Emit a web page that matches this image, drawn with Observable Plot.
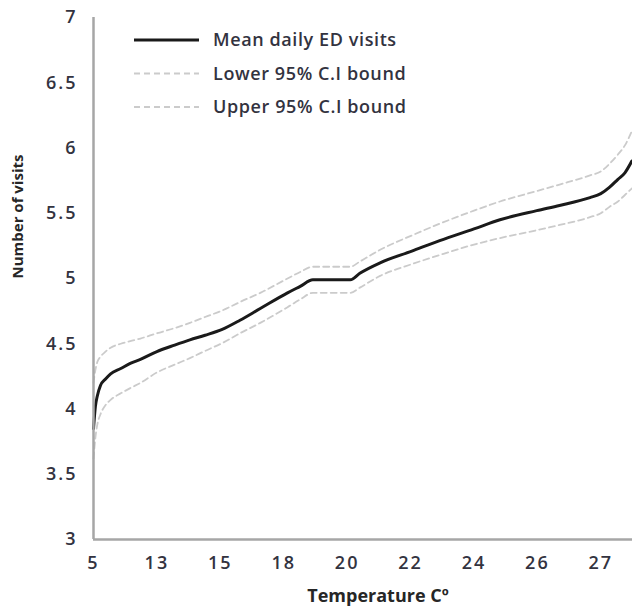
<!DOCTYPE html>
<html>
<head>
<meta charset="utf-8">
<script src="https://cdn.jsdelivr.net/npm/d3@7"></script>
<script src="https://cdn.jsdelivr.net/npm/@observablehq/plot@0.6"></script>
<style>
  html, body { margin: 0; padding: 0; background: #fff; }
  #wrap { position: relative; width: 632px; height: 606px; }
  #legend { position: absolute; left: 0; top: 0; }
</style>
</head>
<body>
<div id="wrap"></div>
<script>
// Category tick labels on the x axis (evenly spaced temperature categories)
const xTickLabels = ["5", "13", "15", "18", "20", "22", "24", "26", "27"];
// Position along the category axis (0 = first label, 1 = second, ...)
const temperatureIndex = [0, 0.03, 0.06, 0.11, 0.19, 0.27, 0.43, 0.58, 0.74, 1.0, 1.28, 1.52, 1.76, 2.03, 2.31, 2.63, 3.06, 3.26, 3.46, 3.73, 4.05, 4.2, 4.52, 5.02, 5.46, 6.0, 6.41, 6.99, 7.35, 7.83, 8.0, 8.14, 8.27, 8.38, 8.49];
const meanVisits = [3.85, 4.02, 4.10, 4.18, 4.23, 4.27, 4.31, 4.35, 4.38, 4.44, 4.49, 4.53, 4.565, 4.61, 4.68, 4.77, 4.89, 4.94, 4.99, 4.99, 4.99, 5.04, 5.12, 5.21, 5.29, 5.38, 5.45, 5.52, 5.56, 5.62, 5.65, 5.70, 5.76, 5.81, 5.90];
const upperCI = [4.20, 4.30, 4.36, 4.40, 4.44, 4.47, 4.50, 4.52, 4.54, 4.58, 4.62, 4.66, 4.705, 4.755, 4.82, 4.89, 5.00, 5.05, 5.09, 5.09, 5.09, 5.13, 5.22, 5.33, 5.42, 5.52, 5.59, 5.67, 5.72, 5.79, 5.82, 5.88, 5.95, 6.02, 6.13];
const lowerCI = [3.62, 3.78, 3.88, 3.96, 4.03, 4.07, 4.12, 4.16, 4.20, 4.28, 4.34, 4.39, 4.445, 4.505, 4.58, 4.66, 4.78, 4.84, 4.89, 4.89, 4.89, 4.93, 5.02, 5.11, 5.18, 5.26, 5.31, 5.37, 5.41, 5.47, 5.50, 5.55, 5.59, 5.64, 5.69];
const seriesNames = ["Mean daily ED visits", "Lower 95% C.I bound", "Upper 95% C.I bound"];
const yTicks = [3, 3.5, 4, 4.5, 5, 5.5, 6, 6.5, 7];
const xTitle = "Temperature C\u00BA";
const yTitle = "Number of visits";

const rows = temperatureIndex.map((t, i) => ({t, mean: meanVisits[i], lo: lowerCI[i], hi: upperCI[i]}));

const textColor = "#33333f";
const svg = Plot.plot({
  width: 632,
  height: 606,
  marginLeft: 93,
  marginRight: 0,
  marginTop: 17,
  marginBottom: 67,
  style: {fontFamily: "Open Sans", fontSize: "18px", fontWeight: 600, color: textColor, background: "#fff"},
  x: {domain: [0, 8.5]},
  y: {domain: [3, 7]},
  marks: [
    Plot.axisX({ticks: d3.range(xTickLabels.length), tickFormat: i => xTickLabels[i], tickSize: 0, tickPadding: 17, label: null, fill: textColor}),
    Plot.axisY({ticks: yTicks, tickFormat: d => String(d), tickSize: 0, tickPadding: 16, label: null, fill: textColor}),
    Plot.line(rows, {x: "t", y: "lo", stroke: "#cbcbcb", strokeWidth: 1.8, strokeDasharray: "6,4", curve: "monotone-x"}),
    Plot.line(rows, {x: "t", y: "hi", stroke: "#cbcbcb", strokeWidth: 1.8, strokeDasharray: "6,4", curve: "monotone-x"}),
    Plot.line(rows, {x: "t", y: "mean", stroke: "#1a1a1a", strokeWidth: 3, curve: "monotone-x"}),
    Plot.ruleX([0], {stroke: "#a6a6a6", strokeWidth: 2.5}),
    Plot.ruleY([3], {stroke: "#a6a6a6", strokeWidth: 2.5}),
    Plot.text([xTitle], {frameAnchor: "bottom", dx: 15, dy: 62, fontWeight: "bold", fontSize: 18, fill: "#262626", ariaLabel: "x-title"}),
    Plot.text([yTitle], {frameAnchor: "left", dx: -75, dy: 0, rotate: -90, fontWeight: "bold", fontSize: 15, fill: "#262626", ariaLabel: "y-title"})
  ]
});

d3.select(svg).selectAll('g[aria-label="x-axis tick label"] text, g[aria-label="y-axis tick label"] text').attr("letter-spacing", "2px");
d3.select(svg).selectAll('g[aria-label="x-title"] text').attr("letter-spacing", "1.5px");
d3.select(svg).selectAll('g[aria-label="y-title"] text').attr("letter-spacing", "-0.5px");

const wrap = document.getElementById("wrap");
wrap.appendChild(svg);

// Legend overlay (inside the plot area, top-left)
const legendStyles = [
  {stroke: "#1a1a1a", width: 3, dash: null},
  {stroke: "#cbcbcb", width: 1.8, dash: "6,4"},
  {stroke: "#cbcbcb", width: 1.8, dash: "6,4"}
];
const leg = d3.select(wrap).append("svg")
  .attr("id", "legend")
  .attr("width", 632).attr("height", 130)
  .style("font-family", "Open Sans").style("font-size", "18px").style("font-weight", 600);
seriesNames.forEach((name, i) => {
  const y = 40 + i * 33.5;
  const s = legendStyles[i];
  leg.append("line").attr("x1", 134).attr("x2", 199).attr("y1", y).attr("y2", y)
    .attr("stroke", s.stroke).attr("stroke-width", s.width).attr("stroke-dasharray", s.dash);
  leg.append("text").attr("x", 213).attr("y", y).attr("dy", "0.35em")
    .attr("fill", textColor).attr("letter-spacing", "0.6px").text(name);
});
</script>
</body>
</html>
